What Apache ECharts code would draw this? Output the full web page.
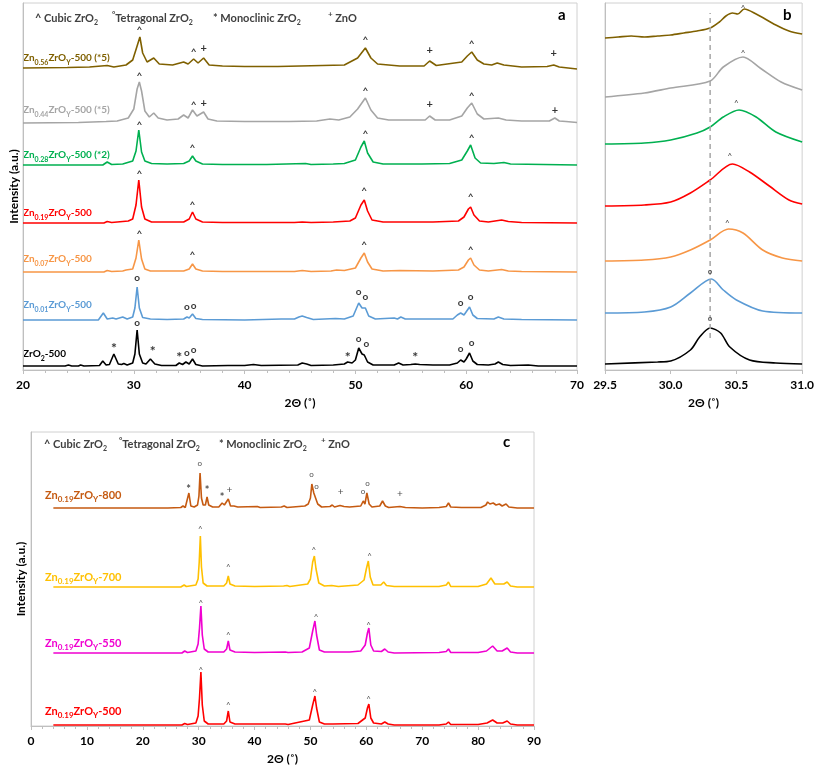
<!DOCTYPE html>
<html><head><meta charset="utf-8">
<script src="https://cdn.jsdelivr.net/npm/echarts@6/dist/echarts.min.js"></script>
<style>html,body{margin:0;padding:0;background:#fff}#c{width:817px;height:773px}</style>
</head><body><div id="c"></div>
<script>
// ---------- Panel a: XRD patterns (2θ, intensity above own baseline) ----------
const aZrO2 = [[20,0],[23.8,0],[24.1,1],[24.4,0],[25.0,0],[25.2,1],[25.5,0],[26.9,0.5],[27.2,5],[27.5,1],[27.8,1.5],[28.2,12],[28.6,2],[28.9,1.5],[29.1,2.5],[29.4,1],[29.9,3],[30.1,12],[30.3,36],[30.5,12],[30.8,3],[31.1,2],[31.5,7],[31.9,2],[32.5,0.5],[33.8,0.5],[34.1,3],[34.4,1.5],[34.7,4],[35.0,2],[35.3,7],[35.6,1.5],[36.2,0],[38.5,0.5],[40.0,0.5],[40.8,1.5],[41.5,0.5],[44.8,1],[45.2,3],[45.6,2],[46.0,0.5],[48.0,1],[49.0,2],[49.3,4],[49.7,3],[50.0,6],[50.3,18],[50.6,12],[50.8,11],[51.1,4],[51.6,1],[53.5,1],[53.9,3],[54.3,1],[55.0,1.5],[55.4,2],[55.8,1.5],[57.0,1],[58.5,1],[59.2,3],[59.5,6],[59.8,4],[60.0,7],[60.3,13],[60.6,5],[61.0,1.5],[62.0,1],[62.6,2],[62.9,4],[63.3,1.5],[64.0,0.5],[65.6,1],[66.5,0],[70,0]];
const aZn001 = [[20,0],[26.8,0],[27.25,7],[27.6,1],[28.1,2],[28.4,1],[29.0,3],[29.4,1],[29.9,3],[30.1,12],[30.3,33],[30.5,12],[30.8,2.5],[31.5,1],[33,0.5],[34.5,1],[34.8,3],[35.0,2],[35.3,6],[35.6,1.5],[36.2,0.5],[40,0],[43.3,1],[44.5,1],[44.9,3],[45.2,4],[45.6,2.5],[46.2,0.5],[48.2,1.5],[49.0,1],[49.8,4],[50.3,17],[50.6,12],[50.9,12],[51.2,4],[51.8,1],[53.5,2],[53.8,1],[54.1,3],[54.5,1],[57.5,1],[58.8,1],[59.2,5],[59.5,7],[59.8,5],[60.3,13],[60.6,5],[61.0,1.5],[62.5,1],[62.9,3],[63.4,1],[65,0.5],[70,0]];
const aZn007 = [[20,0],[27.3,0],[27.6,1.5],[28,0.5],[29.0,1],[29.3,2],[29.9,3],[30.2,14],[30.45,32],[30.7,13],[31,3],[31.5,1],[34.5,1],[35.0,3],[35.3,8],[35.6,3],[36.2,1],[38,0.5],[44.5,0.5],[45.2,1.5],[46,0.5],[47.8,1],[48.3,2],[49,1.5],[50.0,4],[50.5,14],[50.8,19],[51.1,10],[51.5,3],[52.5,1],[54,1.5],[57,1],[59.3,2],[59.8,5],[60.2,12],[60.4,14],[60.7,7],[61.2,2],[62,1],[63.2,2.5],[63.8,1],[65,0.5],[70,0]];
const aZn019 = [[20,0],[27.3,0],[27.6,1.5],[28,0.5],[29.0,1.5],[29.5,2],[29.9,4],[30.2,18],[30.45,43],[30.7,16],[31,4],[31.6,1],[34.5,1],[35.0,4],[35.3,11],[35.6,4],[36.2,1],[38,0.5],[44.5,0.5],[45.2,1],[46,0.5],[48,1],[49.5,2],[50.0,5],[50.5,18],[50.8,23],[51.1,12],[51.5,3],[52.5,1],[54,1],[57,1],[59.3,2],[59.8,6],[60.2,14],[60.4,16],[60.7,8],[61.2,2],[62,1],[63.2,3],[63.8,1.5],[65,0.5],[70,0]];
const aZn028 = [[20,0],[27.2,0],[27.6,3],[28,0.5],[29.0,1],[29.3,2],[29.9,4],[30.2,14],[30.45,35],[30.7,13],[31,4],[31.6,1.5],[33,1],[34.5,1.5],[35.0,4],[35.3,9],[35.6,4],[36.2,1],[38,0.5],[42,0.5],[45.5,1.5],[46,0.5],[48,1],[49,1.5],[50.0,5],[50.5,18],[50.8,24],[51.1,12],[51.6,3],[52.5,1],[54,1],[56,1],[58.5,1.5],[59.6,5],[60.1,14],[60.4,20],[60.8,7],[61.3,2],[62.5,1.5],[63.4,2.5],[64,1],[70,0]];
const aZn044 = [[20,0],[25,0.5],[27.5,1.5],[28.5,2],[29.5,5],[30.0,14],[30.3,34],[30.5,41],[30.7,32],[31.0,12],[31.4,6],[31.8,10],[32.2,5],[33,3],[34.0,4],[34.5,8],[34.9,5],[35.3,13],[35.7,7],[36.3,11],[36.7,4],[37.5,2],[40,1.5],[44,1.5],[46.5,2],[47.7,4],[48.5,3],[49.5,6],[50.2,14],[50.9,25],[51.4,13],[52,5],[53,3],[55,3],[56.3,3],[56.7,7],[57.2,3],[58.5,3],[59.6,7],[60.1,15],[60.5,20],[61.0,9],[61.6,4],[62.9,5],[63.6,3],[65,2],[67.5,2],[68,5],[68.4,2],[69,1.5],[70,0.5]];
const aZn056 = [[20,0],[24,0.5],[26,1],[27.6,2.5],[28.2,1],[29.3,3],[29.9,8],[30.3,22],[30.55,31],[30.8,15],[31.2,6],[31.8,10],[32.3,4],[33.5,3],[34.5,6],[34.9,4],[35.4,9],[35.8,5],[36.3,10],[36.8,3],[38,2],[40,1.5],[43,1.5],[45,2],[47,2.5],[49,3],[50.2,10],[50.9,20],[51.4,10],[52,4],[54,2],[56.2,2],[56.7,7],[57.3,2.5],[59.6,6],[60.1,12],[60.5,16],[61,8],[61.6,4],[62.3,3],[62.8,5],[63.4,3],[65,1],[67.3,1.5],[67.9,3],[68.4,1],[70,-1]];
const offsetsA = [4, 50, 98, 147, 205, 247, 302];
const labelsA = ['ZrO{s|2}-500', 'Zn{s|0.01}ZrO{s|Y}-500', 'Zn{s|0.07}ZrO{s|Y}-500', 'Zn{s|0.19}ZrO{s|Y}-500', 'Zn{s|0.28}ZrO{s|Y}-500 (*2)', 'Zn{s|0.44}ZrO{s|Y}-500 (*5)', 'Zn{s|0.56}ZrO{s|Y}-500 (*5)'];
const annA = [
 [30.5,342,'^'],[35.4,320,'^'],[36.3,322,'+'],[50.9,332,'^'],[56.7,320,'+'],[60.5,328,'^'],[67.9,317,'+'],
 [30.5,296,'^'],[35.4,267,'^'],[36.3,267,'+'],[50.9,281,'^'],[56.7,266,'+'],[60.5,276,'^'],[68,260,'+'],
 [30.5,247,'^'],[35.3,224,'^'],[50.9,238,'^'],[60.5,234,'^'],
 [30.5,198,'^'],[35.3,167,'^'],[50.8,181,'^'],[60.4,175,'^'],
 [30.5,138,'^'],[35.3,117,'^'],[50.8,127,'^'],[60.4,122,'^'],
 [30.3,92,'o'],[34.8,63,'o'],[35.4,64,'o'],[50.3,78,'o'],[50.9,73,'o'],[59.5,67,'o'],[60.4,73,'o'],
 [28.2,25,'*'],[30.3,47,'o'],[31.7,22,'*'],[34.1,16,'*'],[34.8,17,'o'],[35.4,20,'o'],[49.3,16,'*'],[50.3,31,'o'],[51.0,26,'o'],[55.4,16,'*'],[59.5,21,'o'],[60.5,27,'o']
];
// ---------- Panel b: zoom on main peak (absolute display intensity) ----------
const bZrO2 = [[29.5,6],[29.9,8],[30.0,9],[30.15,20],[30.22,33],[30.3,42],[30.38,37],[30.45,23],[30.6,10],[30.8,7],[31.0,6]];
const bZn001 = [[29.5,57],[29.8,58],[30.0,63],[30.15,77],[30.31,91],[30.4,80],[30.5,70],[30.7,59],[31.0,57]];
const bZn007 = [[29.5,109],[29.8,110],[30.0,113],[30.15,120],[30.3,130],[30.44,141],[30.55,137],[30.7,120],[30.85,112],[31.0,109]];
const bZn019 = [[29.5,164],[29.8,165],[30.0,168],[30.15,177],[30.3,190],[30.47,206],[30.6,198],[30.75,184],[30.9,170],[31.0,166]];
const bZn028 = [[29.5,226],[29.8,227],[30.0,230],[30.2,237],[30.3,243],[30.4,253],[30.52,260],[30.65,253],[30.8,238],[31.0,228]];
const bZn044 = [[29.5,273],[29.8,277],[30.0,282],[30.3,289],[30.4,303],[30.55,313],[30.68,302],[30.84,288],[31.0,280]];
const bZn056 = [[29.5,332],[29.6,333],[29.7,334],[29.8,333],[29.9,334],[30.0,335],[30.1,337],[30.2,339],[30.3,342],[30.37,348],[30.42,354],[30.47,357],[30.51,356],[30.56,361],[30.65,356],[30.8,345],[30.9,339],[31.0,336]];
const refLineB = [[30.3,32],[30.3,357]];
const annB = [[30.55,364,'^'],[30.55,319,'^'],[30.5,269,'^'],[30.45,216,'^'],[30.43,149,'^'],[30.3,99,'o'],[30.3,52,'o']];
// ---------- Panel c: calcination temperature series ----------
const cZn800 = [[4,0],[20,0],[23.8,0],[24.1,2],[24.5,0],[26.8,0.5],[27.2,2],[27.6,0.5],[27.9,2],[28.25,15],[28.6,2],[29.2,1],[29.8,3],[30.05,12],[30.25,35],[30.5,10],[30.8,3],[31.2,3],[31.5,11],[31.8,3],[32.5,1],[33.6,1],[34.2,5],[34.6,3],[34.9,3],[35.3,9],[35.7,2],[36.3,2],[37,1],[40.5,1.5],[41,0.5],[44.8,1],[45.3,2],[45.8,0.5],[49,2],[49.6,4],[50.0,10],[50.25,24],[50.6,15],[50.9,15],[51.3,4],[52,1],[53.5,1.5],[53.9,3],[54.3,1],[55.3,2.5],[56,1.5],[57,1],[59.0,2],[59.45,7],[59.75,4],[60.1,15],[60.5,4],[61,1],[62.4,2],[62.9,7],[63.4,2],[64,0.5],[66,1.5],[67,0.5],[70,0],[73,0.5],[74.3,1.5],[74.7,5],[75.1,1],[77,0.5],[80.5,0.5],[81.4,3],[81.7,6],[82.1,4],[82.7,5],[83.2,3],[83.8,4],[84.3,2],[85.0,4],[85.5,1],[87,0],[90,0]];
const cZn700 = [[4,0],[26.8,0],[27.4,2],[27.8,0.5],[29.5,2],[29.9,8],[30.1,25],[30.3,51],[30.5,20],[30.8,4],[31.5,1],[34.5,1],[35.0,4],[35.3,11],[35.6,3],[36.5,1],[40,0.5],[45.2,1],[45.8,1.5],[46.3,0.5],[49.5,3],[50.0,8],[50.4,25],[50.7,31],[51.0,18],[51.5,4],[52.5,1],[53.8,1.5],[55,0.5],[58.5,2],[59.6,7],[60.0,18],[60.35,26],[60.7,10],[61.2,2],[62.6,2],[63.1,5],[63.6,1.5],[65,0.5],[73,0.5],[74.3,2],[74.7,5],[75.1,0.5],[80,0.5],[81.5,3],[82.3,9],[83.0,3],[83.8,3],[84.6,3],[85.2,5],[85.8,1],[87,0],[90,0]];
const cZn550 = [[4,0],[27,0],[27.5,2],[28,0.5],[29.5,2],[29.9,9],[30.15,25],[30.4,47],[30.65,18],[31,4],[31.7,1],[34.5,1],[35.0,4],[35.3,12],[35.6,3],[36.5,1],[40,0.5],[45.5,1],[46,0.5],[48.5,1],[49.8,5],[50.4,22],[50.8,32],[51.1,18],[51.6,3],[52.5,1],[54,1],[57,1],[59.0,2],[59.8,8],[60.2,20],[60.45,25],[60.8,8],[61.3,2],[62.7,1.5],[63.3,4],[63.9,1],[65,0],[73,0.5],[74.3,1.5],[74.7,4],[75.1,0.5],[80,0.5],[81.5,2],[82.6,7],[83.4,2],[84.3,2],[85.2,5],[85.8,1],[87,0],[90,0]];
const cZn500 = [[4,0],[27,0],[27.5,1.5],[28,0.5],[29.5,2],[29.9,9],[30.15,27],[30.4,53],[30.65,20],[31,4],[31.7,1],[34.5,1],[35.0,4],[35.3,14],[35.6,3],[36.5,1],[45.5,1],[46,0.5],[49.8,5],[50.4,20],[50.8,29],[51.1,17],[51.6,3],[52.5,1],[54,1],[58.5,1.5],[59.8,7],[60.2,17],[60.45,21],[60.8,7],[61.3,2],[62.7,1],[63.3,3],[63.9,1],[65,0],[73,0],[74.3,1],[74.7,3],[75.1,0.5],[80,0.5],[81.6,2],[82.6,5],[83.4,2],[84.4,2],[85.2,4],[85.8,1],[87,0],[90,0]];
const offsetsC = [1, 73, 139, 218];
const labelsC = ['Zn{s|0.19}ZrO{s|Y}-500', 'Zn{s|0.19}ZrO{s|Y}-550', 'Zn{s|0.19}ZrO{s|Y}-700', 'Zn{s|0.19}ZrO{s|Y}-800'];
const annC = [
 [30.2,263,'o'],[28.2,240,'*'],[31.5,239,'*'],[34.2,232,'*'],[35.5,236,'+'],[50.2,252,'o'],[51.1,240,'o'],[55.4,234,'+'],[59.4,235,'o'],[60.2,243,'o'],[66.0,232,'+'],
 [30.3,199,'^'],[35.3,161,'^'],[50.6,178,'^'],[60.6,172,'^'],
 [30.4,125,'^'],[35.3,93,'^'],[51.0,111,'^'],[60.4,103,'^'],
 [30.4,58,'^'],[35.3,23,'^'],[50.8,36,'^'],[60.4,29,'^']
];
const legendItems = [['^',' Cubic ZrO','2'],['°','Tetragonal ZrO','2'],['*',' Monoclinic ZrO','2'],['+',' ZnO','']];

// ---------- styling ----------
const FONT = 'Lato';
const colorsA = ['#000000','#5B9BD5','#F79646','#FF0000','#00B050','#A5A5A5','#7F6000'];
const colorsC = ['#FF0000','#F000D0','#FFC000','#C55A11'];
const seriesA = [aZrO2,aZn001,aZn007,aZn019,aZn028,aZn044,aZn056];
const seriesB = [bZrO2,bZn001,bZn007,bZn019,bZn028,bZn044,bZn056];
const seriesC = [cZn500,cZn550,cZn700,cZn800];
const labelPosA = [[23,354],[23,305],[23,259],[23,213],[23,155],[23,110],[23,58]];
const labelPosC = [[45,711],[45,643],[45,577],[45,495]];
const legendXA = [35,112,213,328], legendXC = [44,119,219,321];
const AXC = '#BFBFBF';

const shift = (pts, off) => pts.map(p => [p[0], p[1] + off]);
const annStyleA = {'^':{fontSize:10,fontWeight:'bold',offset:[0,2]}, 'o':{fontSize:10,fontWeight:'bold',offset:[0,0]}, '*':{fontSize:14,fontWeight:'bold',offset:[0,3]}, '+':{fontSize:11,fontWeight:'bold',offset:[0,0]}};
const annStyleC = {'^':{fontSize:8,fontWeight:'normal',offset:[0,2]}, 'o':{fontSize:8,fontWeight:'normal',offset:[0,0]}, '*':{fontSize:11,fontWeight:'bold',offset:[0,3]}, '+':{fontSize:10,fontWeight:'normal',offset:[0,0]}};

function annSeries(ann, idx, styles, color) {
  return {
    type:'scatter', xAxisIndex:idx, yAxisIndex:idx, symbolSize:1, silent:true,
    itemStyle:{color:'transparent'}, z:5,
    data: ann.map(a => ({value:[a[0],a[1]], label:{show:true, position:'inside', formatter:a[2],
      fontSize:styles[a[2]].fontSize, fontWeight:styles[a[2]].fontWeight, offset:styles[a[2]].offset,
      color:color, fontFamily:FONT}}))
  };
}

const series = [];
seriesA.forEach((s,i) => series.push({type:'line', xAxisIndex:0, yAxisIndex:0, data:shift(s, offsetsA[i]), showSymbol:false, lineStyle:{color:colorsA[i], width:1.6}, color:colorsA[i], silent:true}));
seriesB.forEach((s,i) => series.push({type:'line', xAxisIndex:1, yAxisIndex:1, data:s, showSymbol:false, smooth:0.3, lineStyle:{color:colorsA[i], width:1.6}, color:colorsA[i], silent:true}));
series.push({type:'line', xAxisIndex:1, yAxisIndex:1, data:refLineB, showSymbol:false, lineStyle:{color:'#A6A6A6', width:1.5, type:[5,4]}, silent:true});
seriesC.forEach((s,i) => series.push({type:'line', xAxisIndex:2, yAxisIndex:2, data:shift(s, offsetsC[i]), showSymbol:false, lineStyle:{color:colorsC[i], width:1.6}, color:colorsC[i], silent:true}));
series.push(annSeries(annA,0,annStyleA,'#000'));
series.push(annSeries(annB,1,annStyleC,'#000'));
series.push(annSeries(annC,2,annStyleC,'#222'));

function xAx(idx, min, max, interval, minor, fmt) {
  return {gridIndex:idx, type:'value', min, max, interval,
    axisLine:{show:true, lineStyle:{color:AXC, width:1}},
    axisTick:{show:true, length:4, lineStyle:{color:AXC}},
    minorTick:{show:minor, splitNumber:5, length:3, lineStyle:{color:AXC}},
    splitLine:{show:false}, minorSplitLine:{show:false},
    axisLabel:{fontFamily:FONT, fontWeight:'bold', fontSize:12, color:'#000', margin:9, formatter:fmt},
    name:'2Θ (˚)', nameLocation:'middle', nameGap:27,
    nameTextStyle:{fontFamily:FONT, fontWeight:'bold', fontSize:12, color:'#000'}};
}
function yAx(idx, max, name, gap) {
  return {gridIndex:idx, type:'value', min:0, max,
    axisLine:{show:true, lineStyle:{color:AXC}}, axisTick:{show:false}, axisLabel:{show:false}, splitLine:{show:false},
    name, nameLocation:'middle', nameGap:gap,
    nameTextStyle:{fontFamily:FONT, fontWeight:'bold', fontSize:12, color:'#000'}};
}

const graphic = [];
function richLabel(x, y, text, color, size) {
  graphic.push({type:'text', x, y, silent:true, style:{text, fill:color, fontFamily:FONT, fontWeight:'bold', fontSize:size, verticalAlign:'middle',
    rich:{s:{fontSize:Math.round(size*0.7), fontWeight:'bold', fontFamily:FONT, fill:color, verticalAlign:'bottom', padding:[0,0,-3,0]}}}});
}
labelsA.forEach((t,i) => richLabel(labelPosA[i][0], labelPosA[i][1], t, colorsA[i], 10));
labelsC.forEach((t,i) => richLabel(labelPosC[i][0], labelPosC[i][1], t, colorsC[i], 11));
function legend(xs, y) {
  legendItems.forEach((it,i) => {
    const sym = it[0]==='+' || it[0]==='°' ? '{p|'+it[0]+'}' : '{k|'+it[0]+'}';
    const text = sym + it[1] + (it[2] ? '{s|'+it[2]+'}' : '');
    graphic.push({type:'text', x:xs[i], y, silent:true, style:{text, fill:'#404040', fontFamily:FONT, fontWeight:'bold', fontSize:11, verticalAlign:'middle',
      rich:{s:{fontSize:7, fontWeight:'bold', fontFamily:FONT, fill:'#404040', verticalAlign:'bottom', padding:[0,0,-3,0]},
            k:{fontSize:11, fontWeight:'bold', fontFamily:FONT, fill:'#404040'},
            p:{fontSize:8, fontWeight:'bold', fontFamily:FONT, fill:'#404040', verticalAlign:'top', padding:[-2,0,0,0]}}}});
  });
}
legend(legendXA, 18);
legend(legendXC, 444);
graphic.push({type:'text', x:558, y:15, silent:true, style:{text:'a', fill:'#000', fontFamily:FONT, fontWeight:'bold', fontSize:15, verticalAlign:'middle'}});
graphic.push({type:'text', x:783, y:15, silent:true, style:{text:'b', fill:'#000', fontFamily:FONT, fontWeight:'bold', fontSize:15, verticalAlign:'middle'}});
graphic.push({type:'text', x:503, y:442, silent:true, style:{text:'c', fill:'#000', fontFamily:FONT, fontWeight:'bold', fontSize:15, verticalAlign:'middle'}});

const chart = echarts.init(document.getElementById('c'));
chart.setOption({
  animation:false,
  backgroundColor:'#fff',
  grid:[
    {left:17, top:3, width:560, height:367, show:true, borderColor:'#D0D0D0', borderWidth:1},
    {left:605, top:3, width:199, height:367, show:true, borderColor:'#D0D0D0', borderWidth:1},
    {left:31, top:432, width:503, height:294, show:true, borderColor:'#D0D0D0', borderWidth:1}
  ],
  xAxis:[
    xAx(0,20,70,10,true,v=>v),
    xAx(1,29.5,31.0,0.5,false,v=>v.toFixed(1)),
    xAx(2,0,90,10,true,v=>v)
  ],
  yAxis:[yAx(0,367,'Intensity (a.u.)',3), yAx(1,367,'',0), yAx(2,294,'Intensity (a.u.)',4)],
  series,
  graphic
});
</script></body></html>
